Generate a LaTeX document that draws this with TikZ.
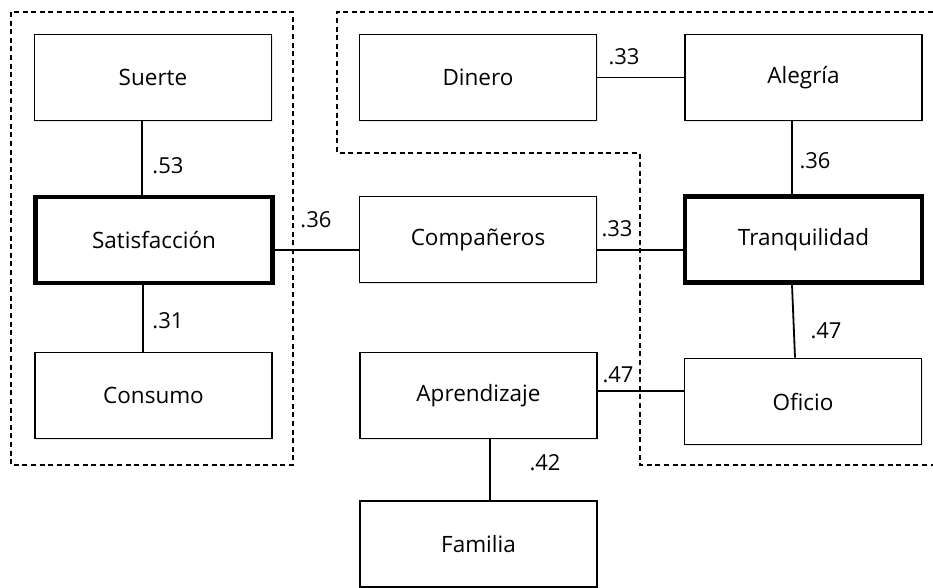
\documentclass[tikz,border=0pt]{standalone}
\usepackage{fontspec}
\setmainfont{Open Sans}
\usetikzlibrary{shadows}
\begin{document}
\begin{tikzpicture}[x=1pt,y=-1pt,
  box/.style={draw, line width=1.8pt, minimum width=237pt, minimum height=86pt, inner sep=0pt, fill=white,
    font=\fontsize{22.5}{26}\selectfont, drop shadow={opacity=0.18, shadow xshift=1.2pt, shadow yshift=-1.8pt}},
  keybox/.style={box, line width=4.6pt},
  lbl/.style={font=\fontsize{22}{26}\selectfont, inner sep=0pt},
  link/.style={line width=1.8pt},
  group/.style={line width=1.2pt, dash pattern=on 5pt off 3.6pt}]
\useasboundingbox (0,0) rectangle (933,587);

% groups
\draw[group] (11,12) rectangle (293,465);
\draw[group] (933,12) -- (337,12) -- (337,153) -- (640,153) -- (640,465) -- (933,465);

% nodes
\node[box]    (suerte)  at (153,77.5)   {Suerte};
\node[keybox] (satis)   at (154,240)    {Satisfacción};
\node[box]    (consumo) at (153.5,395.5){Consumo};
\node[box]    (dinero)  at (478,77.5)   {Dinero};
\node[box]    (alegria) at (803.5,77.5) {Alegría};
\node[box]    (comp)    at (478,239.5)  {Compañeros};
\node[keybox] (tranq)   at (803.5,239.5){Tranquilidad};
\node[box]    (aprend)  at (478.5,395.5){Aprendizaje};
\node[box]    (familia) at (478.5,544)  {Familia};
\node[box]    (oficio)  at (803,401.5)  {Oficio};

% connectors
\draw[link] ([xshift=-11pt]suerte.south) -- ([xshift=-12pt]satis.north);
\draw[link] ([xshift=-11pt]satis.south) -- ([xshift=-10.5pt]consumo.north);
\draw[link] ([yshift=-10pt]satis.east) -- ([yshift=-10.5pt]comp.west);
\draw[link] (dinero.east) -- (alegria.west);
\draw[link] ([xshift=-11.5pt]alegria.south) -- ([xshift=-11.5pt]tranq.north);
\draw[link] ([yshift=-10.5pt]comp.east) -- ([yshift=-10.5pt]tranq.west);
\draw[link] ([xshift=-11.5pt]tranq.south) -- ([xshift=-8pt]oficio.north);
\draw[link] ([yshift=4.5pt]aprend.east) -- ([yshift=10.5pt]oficio.west);
\draw[link] ([xshift=11.5pt]aprend.south) -- ([xshift=11.5pt]familia.north);

% labels
\node[lbl] (l1) at (168,166) {.53};
\node[lbl] (l2) at (168,321) {.31};
\node[lbl] (l3) at (316,220) {.36};
\node[lbl] (l4) at (624,57)  {.33};
\node[lbl] (l5) at (617,229) {.33};
\node[lbl] (l6) at (815,161) {.36};
\node[lbl] (l7) at (826,331) {.47};
\node[lbl] (l8) at (618,375) {.47};
\node[lbl] (l9) at (545,463) {.42};
\end{tikzpicture}
\end{document}
